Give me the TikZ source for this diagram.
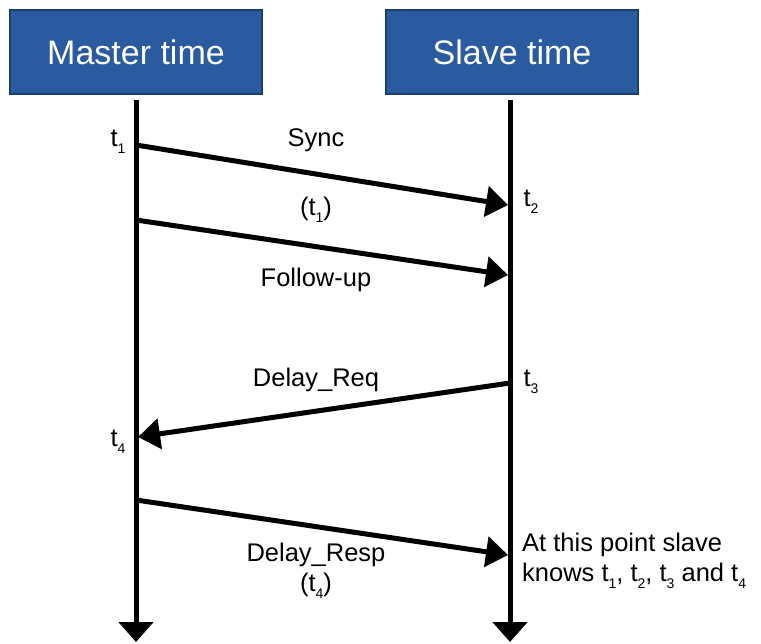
\documentclass[tikz,border=0pt]{standalone}
\usepackage{fontspec}
\setmainfont{Liberation Sans}
\usetikzlibrary{arrows.meta}
\definecolor{boxblue}{HTML}{2A5BA0}
\definecolor{boxedge}{HTML}{1C3F6E}
\newcommand\tsb[1]{t\raisebox{-0.5ex}{\fontsize{14}{14}\selectfont #1}}
\begin{document}
\begin{tikzpicture}[x=1pt,y=-1pt,
  hdr/.style={draw=boxedge,line width=1.2pt,fill=boxblue,text=white,minimum width=252pt,minimum height=84pt,inner sep=0pt,font=\fontsize{34}{38}\selectfont},
  lbl/.style={font=\fontsize{25.5}{30}\selectfont,inner sep=0pt},
  msg/.style={line width=5pt,-{Triangle[length=22pt,width=30pt]}},
  tl/.style={line width=5pt,-{Triangle[length=20pt,width=34pt]}}]
\useasboundingbox (0,0) rectangle (761,644);
\node[hdr] (M) at (136,52) {Master time};
\node[hdr] (S) at (512,52) {Slave time};
\coordinate (m0) at (136,100);
\coordinate (s0) at (510,100);
\coordinate (m1) at (136,642);
\coordinate (s1) at (510,642);
\draw[tl] (m0) -- (m1);
\draw[tl] (s0) -- (s1);
\coordinate (a1) at (136,145);
\coordinate (b1) at (508,205);
\coordinate (a2) at (136,220);
\coordinate (b2) at (508,275);
\coordinate (b3) at (510,383);
\coordinate (a3) at (138,437);
\coordinate (a4) at (136,500);
\coordinate (b4) at (508,555);
\draw[msg] (a1) -- (b1);
\draw[msg] (a2) -- (b2);
\draw[msg] (b3) -- (a3);
\draw[msg] (a4) -- (b4);
\node[lbl] (t1) at (118,142) {\tsb{1}};
\node[lbl] (t2) at (531,202) {\tsb{2}};
\node[lbl] (t3) at (531,382) {\tsb{3}};
\node[lbl] (t4) at (118,442) {\tsb{4}};
\node[lbl] (sync) at (316,140) {Sync};
\node[lbl] (pt1) at (316,210) {(\tsb{1})};
\node[lbl] (fu) at (316,280) {Follow-up};
\node[lbl] (dreq) at (316,380) {Delay\_Req};
\node[lbl] (dresp) at (316,555) {Delay\_Resp};
\node[lbl] (pt4) at (316,586) {(\tsb{4})};
\node[lbl,anchor=west,align=left] (note) at (522,561) {At this point slave\\knows \tsb{1}, \tsb{2}, \tsb{3} and \tsb{4}};
\end{tikzpicture}
\end{document}
